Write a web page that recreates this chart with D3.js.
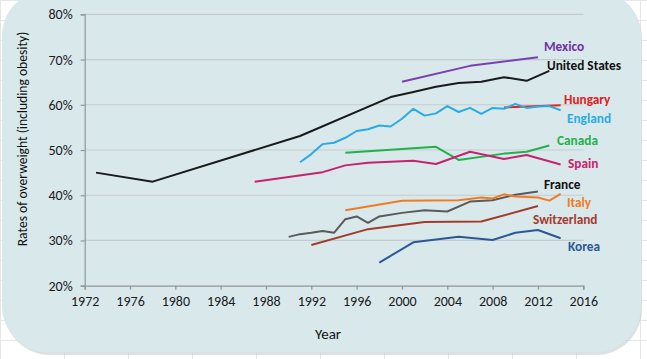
<!DOCTYPE html>
<html><head><meta charset="utf-8">
<script src="https://cdn.jsdelivr.net/npm/d3@7"></script>
<style>
html,body{margin:0;padding:0;}
body{width:647px;height:359px;overflow:hidden;background-color:#fff;
background-image:linear-gradient(#e6e6e6 1px,transparent 1px),linear-gradient(90deg,#e6e6e6 1px,transparent 1px);
background-size:64px 20px;}
svg{display:block;font-family:Carlito,Lato,"Open Sans",sans-serif;}
</style></head><body>
<svg id="c" width="647" height="359"></svg>
<script>
const xTicks=[1972,1976,1980,1984,1988,1992,1996,2000,2004,2008,2012,2016];
const yTicks=[0.2,0.3,0.4,0.5,0.6,0.7,0.8];

const usYears=[1973,1978,1991,1999,2001,2003,2005,2007,2009,2011,2013];
const usVals=[45.0,43.0,53.1,61.7,62.8,64.0,64.8,65.1,66.1,65.3,67.5];
const mexicoYears=[2000,2006,2012];
const mexicoVals=[65.1,68.6,70.5];
const hungaryYears=[2009,2014];
const hungaryVals=[59.4,59.9];
const englandYears=[1991,1992,1993,1994,1995,1996,1997,1998,1999,2000,2001,2002,2003,2004,2005,2006,2007,2008,2009,2010,2011,2012,2013,2014];
const englandVals=[47.3,49.1,51.3,51.6,52.7,54.2,54.6,55.4,55.2,56.9,59.1,57.6,58.1,59.7,58.4,59.3,58.0,59.3,59.1,60.2,59.3,59.6,59.7,58.8];
const canadaYears=[1995,2003,2005,2009,2011,2013];
const canadaVals=[49.4,50.7,47.8,49.2,49.6,51.0];
const spainYears=[1987,1993,1995,1997,2001,2003,2006,2009,2011,2014];
const spainVals=[43.0,45.1,46.6,47.2,47.6,46.9,49.6,48.0,48.9,46.8];
const franceYears=[1990,1991,1992,1993,1994,1995,1996,1997,1998,2000,2002,2004,2006,2008,2010,2012];
const franceVals=[30.8,31.4,31.7,32.1,31.7,34.7,35.3,33.9,35.3,36.1,36.7,36.4,38.6,38.9,40.1,40.8];
const italyYears=[1995,2000,2005,2007,2008,2009,2010,2012,2013,2014];
const italyVals=[36.7,38.8,38.9,39.5,39.3,40.2,39.7,39.5,38.8,40.3];
const switzerlandYears=[1992,1997,2002,2007,2012];
const switzerlandVals=[29.0,32.5,34.1,34.2,37.6];
const koreaYears=[1998,2001,2005,2008,2010,2012,2014];
const koreaVals=[25.1,29.6,30.8,30.1,31.7,32.3,30.5];

const seriesNames=["Mexico","United States","Hungary","England","Canada","Spain","France","Italy","Switzerland","Korea"];
const seriesYears=[mexicoYears,usYears,hungaryYears,englandYears,canadaYears,spainYears,franceYears,italyYears,switzerlandYears,koreaYears];
const seriesVals=[mexicoVals,usVals,hungaryVals,englandVals,canadaVals,spainVals,franceVals,italyVals,switzerlandVals,koreaVals];
const lineColors=["#7b3fb5","#1a1a1a","#e8231f","#2aabe3","#22b14c","#c8226e","#5a5a5a","#f07c22","#a23b2c","#2c5796"];
const labelColors=["#7030a0","#111111","#e02020","#2aabe3","#22b14c","#c8226e","#111111","#f07c22","#a23b2c","#2c5796"];
const labelPos=[[544,46],[547,65],[564,99],[567,118],[557,140],[568,163],[544,184],[567,202],[533,219],[568,246]];

const svg=d3.select("#c");
// panel
svg.append("rect").attr("x",4).attr("y",-8).attr("width",638).attr("height",363).attr("rx",46)
  .attr("fill","#c3cfd1").attr("opacity",0.6);
svg.append("rect").attr("x",2).attr("y",-10).attr("width",639).attr("height",362).attr("rx",46)
  .attr("fill","#d9e8eb");

const x=d3.scaleLinear().domain([1972,2016]).range([84.7,583.3]);
const y=d3.scaleLinear().domain([0.2,0.8]).range([285.7,14.3]);

// gridlines
svg.append("g").selectAll("line").data(yTicks.slice(1)).join("line")
  .attr("x1",x(1972)).attr("x2",x(2016)).attr("y1",d=>y(d)).attr("y2",d=>y(d))
  .attr("stroke","#c4cbcc").attr("stroke-width",1.2);

const yAxis=svg.append("g").attr("transform",`translate(${x(1972)},0)`)
  .call(d3.axisLeft(y).tickValues(yTicks).tickFormat(d3.format(".0%")).tickSize(4).tickPadding(8));
const xAxis=svg.append("g").attr("transform",`translate(0,${y(0.2)})`)
  .call(d3.axisBottom(x).tickValues(xTicks).tickFormat(d3.format("d")).tickSize(4).tickPadding(6));
[yAxis,xAxis].forEach(a=>{
  a.select(".domain").attr("stroke","#8f9696").attr("stroke-width",1.2);
  a.selectAll(".tick line").attr("stroke","#8f9696").attr("stroke-width",1.2);
  a.selectAll("text").attr("fill","#1a1a1a").attr("font-size",14).attr("font-family","Carlito,Lato,sans-serif");
});

const line=d3.line().x(d=>x(d[0])).y(d=>y(d[1]/100));
seriesNames.forEach((n,i)=>{
  const pts=seriesYears[i].map((yr,j)=>[yr,seriesVals[i][j]]);
  svg.append("path").datum(pts).attr("d",line).attr("fill","none")
    .attr("stroke",lineColors[i]).attr("stroke-width",2).attr("stroke-linejoin","round");
});
seriesNames.forEach((n,i)=>{
  svg.append("text").attr("x",labelPos[i][0]).attr("y",labelPos[i][1]).attr("dy","0.35em")
    .attr("fill",labelColors[i]).attr("font-weight","bold").attr("font-size",13.3).text(n);
});

svg.append("text").attr("transform","translate(22,139) rotate(-90)").attr("text-anchor","middle")
  .attr("dy","0.35em").attr("font-size",13.6).attr("fill","#111").text("Rates of overweight (including obesity)");
svg.append("text").attr("x",328).attr("y",334).attr("text-anchor","middle").attr("dy","0.35em")
  .attr("font-size",15).attr("fill","#111").text("Year");
</script>
</body></html>
